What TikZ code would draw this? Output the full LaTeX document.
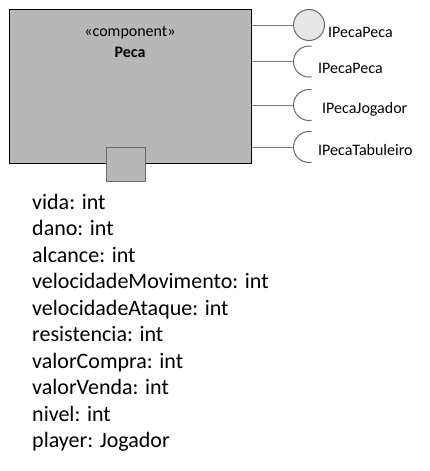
\documentclass[tikz,border=0pt]{standalone}
\usepackage{fontspec}
\setmainfont{Carlito}
\usetikzlibrary{positioning}

\definecolor{compgray}{HTML}{B7B7B7}
\definecolor{ifacefill}{HTML}{E7E7E7}
\definecolor{wiregray}{HTML}{808080}
\definecolor{edgegray}{HTML}{6A6A6A}

\begin{document}
\begin{tikzpicture}[
  x=1pt, y=-1pt,
  component/.style={rectangle, draw=black, fill=compgray, line width=1pt, minimum width=242pt, minimum height=154pt, inner sep=0pt},
  portbox/.style={rectangle, draw=edgegray, fill=compgray, line width=1pt, minimum width=39pt, minimum height=34pt, inner sep=0pt},
  provided/.style={circle, draw=edgegray, fill=ifacefill, line width=1pt, minimum size=31pt, inner sep=0pt},
  wire/.style={draw=wiregray, line width=1pt},
  socket/.style={draw=edgegray, line width=1pt},
  ifacetext/.style={font=\fontsize{16}{19}\selectfont, anchor=base west, inner sep=0pt},
  fields/.style={font=\fontsize{22}{26.5}\selectfont, align=left, anchor=base west, inner sep=0pt}
]
\useasboundingbox (0,0) rectangle (429,471);

% Component
\node[component] (peca) at (130,86) {};
\node[font=\fontsize{16}{19}\selectfont, anchor=base, inner sep=0pt] (stereo) at (130,36) {«component»};
\node[font=\fontsize{16}{19}\selectfont\bfseries, anchor=base, inner sep=0pt] (name) at (130,57) {Peca};
\node[portbox] (port) at (125.5,164) {};

% Provided interface
\node[provided] (pecaLolli) at (309,25) {};
\draw[wire] (peca.east |- pecaLolli) -- (pecaLolli.west);
\node[ifacetext] (pecaLbl) at (328,37) {IPecaPeca};

% Required interfaces
\coordinate (pecaSock) at (309,61.5);
\coordinate (jogadorSock) at (309,105);
\coordinate (tabuleiroSock) at (309,147);

\draw[wire] (peca.east |- pecaSock) -- ([xshift=-15.5pt]pecaSock);
\draw[socket] ([shift={(80:15.5)}]pecaSock) arc[start angle=80, end angle=280, radius=15.5];
\node[ifacetext] (pecaReqLbl) at (318,73) {IPecaPeca};

\draw[wire] (peca.east |- jogadorSock) -- ([xshift=-15.5pt]jogadorSock);
\draw[socket] ([shift={(80:15.5)}]jogadorSock) arc[start angle=80, end angle=280, radius=15.5];
\node[ifacetext] (jogadorLbl) at (322,113) {IPecaJogador};

\draw[wire] (peca.east |- tabuleiroSock) -- ([xshift=-15.5pt]tabuleiroSock);
\draw[socket] ([shift={(80:15.5)}]tabuleiroSock) arc[start angle=80, end angle=280, radius=15.5];
\node[ifacetext] (tabuleiroLbl) at (318,155) {IPecaTabuleiro};

% Attributes (base anchor sits on the last line)
\node[fields] (attrs) at (32,447.5) {vida: int\\
dano: int\\
alcance: int\\
velocidadeMovimento: int\\
velocidadeAtaque: int\\
resistencia: int\\
valorCompra: int\\
valorVenda: int\\
nivel: int\\
player: Jogador};

\end{tikzpicture}
\end{document}
